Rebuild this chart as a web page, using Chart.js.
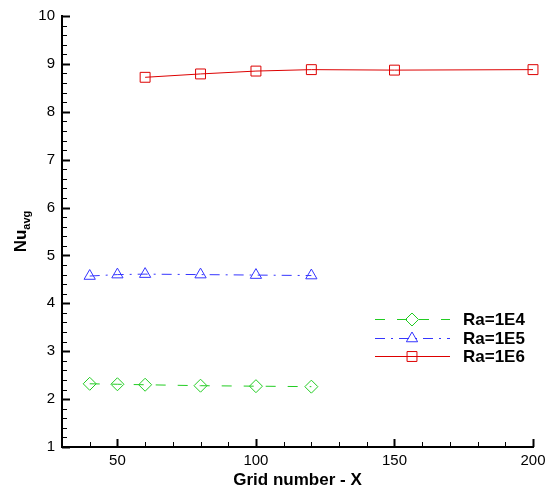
<!DOCTYPE html>
<html>
<head>
<meta charset="utf-8">
<script src="https://cdn.jsdelivr.net/npm/chart.js@4"></script>
<style>
  html, body { margin: 0; padding: 0; background: #fff; }
  #wrap { width: 548px; height: 489px; }
</style>
</head>
<body>
<div id="wrap"><canvas id="chart"></canvas></div>
<script>
// data
const gridRa4 = [40, 50, 60, 80, 100, 120];
const nuRa4 = [2.32, 2.31, 2.30, 2.28, 2.27, 2.26];
const gridRa5 = [40, 50, 60, 80, 100, 120];
const nuRa5 = [4.57, 4.60, 4.61, 4.60, 4.59, 4.58];
const gridRa6 = [60, 80, 100, 120, 150, 200];
const nuRa6 = [8.72, 8.79, 8.85, 8.88, 8.87, 8.88];
const seriesNames = ['Ra=1E4', 'Ra=1E5', 'Ra=1E6'];
const xTicks = [50, 100, 150, 200];
const yTicks = [1, 2, 3, 4, 5, 6, 7, 8, 9, 10];

const FONT = "'Liberation Sans', Arial, sans-serif";

function toPoints(xs, ys) {
    return xs.map((x, i) => ({x: x, y: ys[i]}));
}

// inward ticks, legend and axis titles (Nu with subscript)
const decorations = {
    id: 'decorations',
    afterDraw(chart) {
        const ctx = chart.ctx;
        const xs = chart.scales.x;
        const ys = chart.scales.y;
        const area = chart.chartArea;
        ctx.save();
        ctx.strokeStyle = '#000';

        // y ticks
        for (let v = 1; v <= 10.001; v += 0.2) {
            const major = Math.abs(v - Math.round(v)) < 0.01;
            const py = Math.round(ys.getPixelForValue(v)) + 0.5;
            ctx.lineWidth = major ? 2 : 1;
            ctx.beginPath();
            ctx.moveTo(area.left, py);
            ctx.lineTo(area.left + (major ? 8 : 5), py);
            ctx.stroke();
        }
        // x ticks
        for (let v = 40; v <= 200; v += 10) {
            const major = v % 50 === 0;
            const px = Math.round(xs.getPixelForValue(v)) + 0.5;
            ctx.lineWidth = major ? 2 : 1;
            ctx.beginPath();
            ctx.moveTo(px, area.bottom);
            ctx.lineTo(px, area.bottom - (major ? 8 : 5));
            ctx.stroke();
        }

        // x title
        ctx.fillStyle = '#000';
        ctx.font = 'bold 17px ' + FONT;
        ctx.textAlign = 'center';
        ctx.textBaseline = 'middle';
        ctx.fillText('Grid number - X', (area.left + area.right) / 2, 480);

        // y title
        ctx.save();
        ctx.translate(20, (area.top + area.bottom) / 2);
        ctx.rotate(-Math.PI / 2);
        ctx.textAlign = 'left';
        ctx.textBaseline = 'alphabetic';
        ctx.font = 'bold 17px ' + FONT;
        const w1 = ctx.measureText('Nu').width;
        ctx.font = 'bold 11px ' + FONT;
        const w2 = ctx.measureText('avg').width;
        const start = -(w1 + w2) / 2;
        ctx.font = 'bold 17px ' + FONT;
        ctx.fillText('Nu', start, 6);
        ctx.font = 'bold 11px ' + FONT;
        ctx.fillText('avg', start + w1, 10);
        ctx.restore();

        // legend
        const rows = [319, 338, 356];
        chart.data.datasets.forEach((ds, i) => {
            const y = rows[i] + 0.5;
            ctx.strokeStyle = ds.borderColor;
            ctx.lineWidth = 1;
            ctx.setLineDash(ds.borderDash || []);
            ctx.beginPath();
            ctx.moveTo(375, y);
            ctx.lineTo(450, y);
            ctx.stroke();
            ctx.setLineDash([]);
            ctx.fillStyle = 'rgba(0,0,0,0)';
            Chart.helpers.drawPoint(ctx, {
                pointStyle: ds.pointStyle,
                radius: ds.pointRadius,
                rotation: 0,
                borderWidth: 1
            }, 412, y);
            ctx.fillStyle = '#000';
            ctx.font = 'bold 17px ' + FONT;
            ctx.textAlign = 'left';
            ctx.textBaseline = 'middle';
            ctx.fillText(ds.label, 463, rows[i] + 1);
        });
        ctx.restore();
    }
};

new Chart(document.getElementById('chart').getContext('2d'), {
    type: 'line',
    data: {
        datasets: [
            {
                label: seriesNames[0],
                data: toPoints(gridRa4, nuRa4),
                borderColor: '#22cc22',
                borderWidth: 1,
                borderDash: [10, 12],
                pointStyle: 'rectRot',
                pointRadius: 6.5,
                pointBorderColor: '#22cc22',
                pointBackgroundColor: 'rgba(0,0,0,0)',
                pointBorderWidth: 1,
                clip: false
            },
            {
                label: seriesNames[1],
                data: toPoints(gridRa5, nuRa5),
                borderColor: '#3535ff',
                borderWidth: 1,
                borderDash: [10, 6, 2, 6],
                pointStyle: 'triangle',
                pointRadius: 6.5,
                pointBorderColor: '#3535ff',
                pointBackgroundColor: 'rgba(0,0,0,0)',
                pointBorderWidth: 1,
                clip: false
            },
            {
                label: seriesNames[2],
                data: toPoints(gridRa6, nuRa6),
                borderColor: '#dd0000',
                borderWidth: 1,
                pointStyle: 'rect',
                pointRadius: 7,
                pointBorderColor: '#dd0000',
                pointBackgroundColor: 'rgba(0,0,0,0)',
                pointBorderWidth: 1,
                clip: false
            }
        ]
    },
    options: {
        responsive: true,
        maintainAspectRatio: false,
        animation: false,
        layout: {padding: {left: 0, top: 16, right: 15, bottom: 0}},
        plugins: {legend: {display: false}, tooltip: {enabled: false}},
        scales: {
            x: {
                type: 'linear',
                min: 30,
                max: 200,
                grid: {display: false, drawTicks: false},
                border: {display: true, color: '#000', width: 2},
                ticks: {color: '#000', font: {family: FONT, size: 15}, padding: 5},
                afterBuildTicks(scale) { scale.ticks = xTicks.map(v => ({value: v})); },
                afterFit(scale) {
                    scale.height = 42;
                    scale.paddingRight = 0;
                    scale.paddingLeft = 0;
                }
            },
            y: {
                type: 'linear',
                min: 1,
                max: 10,
                grid: {display: false, drawTicks: false},
                border: {display: true, color: '#000', width: 2},
                ticks: {color: '#000', font: {family: FONT, size: 15}, padding: 7},
                afterBuildTicks(scale) { scale.ticks = yTicks.map(v => ({value: v})); },
                afterFit(scale) {
                    scale.width = 62;
                    scale.paddingTop = 0;
                    scale.paddingBottom = 0;
                }
            }
        }
    },
    plugins: [decorations]
});
</script>
</body>
</html>
